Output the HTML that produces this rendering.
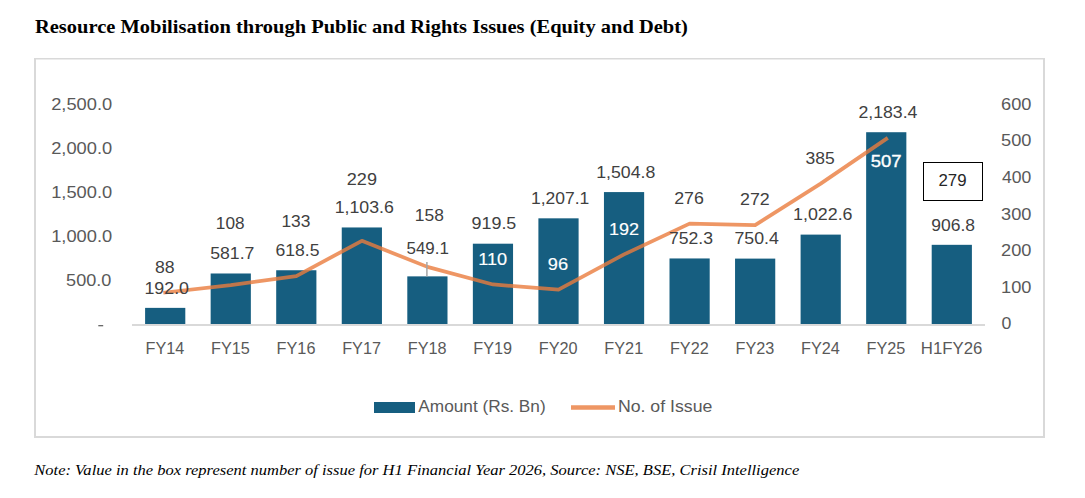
<!DOCTYPE html>
<html><head><meta charset="utf-8"><title>Resource Mobilisation</title>
<style>html,body{margin:0;padding:0;background:#fff;width:1085px;height:498px;overflow:hidden}</style>
</head><body>
<svg width="1085" height="498" viewBox="0 0 1085 498" style="display:block">
<rect x="0" y="0" width="1085" height="498" fill="#ffffff"/>
<rect x="34" y="58" width="1011" height="1.5" fill="#d9d9d9"/><rect x="34" y="58" width="2" height="380" fill="#d9d9d9"/><rect x="1043" y="58" width="2" height="380" fill="#d9d9d9"/><rect x="34" y="436" width="1011" height="2" fill="#d9d9d9"/>
<rect x="145.10" y="307.87" width="40.2" height="16.13" fill="#165e80"/><rect x="210.65" y="273.49" width="40.2" height="50.51" fill="#165e80"/><rect x="276.20" y="270.25" width="40.2" height="53.75" fill="#165e80"/><rect x="341.75" y="227.46" width="40.2" height="96.54" fill="#165e80"/><rect x="407.30" y="276.37" width="40.2" height="47.63" fill="#165e80"/><rect x="472.85" y="243.70" width="40.2" height="80.30" fill="#165e80"/><rect x="538.40" y="218.33" width="40.2" height="105.67" fill="#165e80"/><rect x="603.95" y="192.08" width="40.2" height="131.92" fill="#165e80"/><rect x="669.50" y="258.45" width="40.2" height="65.55" fill="#165e80"/><rect x="735.05" y="258.61" width="40.2" height="65.39" fill="#165e80"/><rect x="800.60" y="234.61" width="40.2" height="89.39" fill="#165e80"/><rect x="866.15" y="132.22" width="40.2" height="191.78" fill="#165e80"/><rect x="931.70" y="244.82" width="40.2" height="79.18" fill="#165e80"/>
<line x1="132" y1="325" x2="985" y2="325" stroke="#d9d9d9" stroke-width="2"/>
<polyline points="165.20,292.53 230.75,285.20 296.30,276.03 361.85,240.83 427.40,266.87 492.95,284.47 558.50,289.60 624.05,254.40 689.60,223.60 755.15,225.07 820.70,183.63 886.25,138.90" fill="none" stroke="#ea7c3d" stroke-opacity="0.8" stroke-width="3.75" stroke-linejoin="round" stroke-linecap="square"/>
<line x1="426.9" y1="262" x2="426.9" y2="276.5" stroke="#a6a6a6" stroke-width="1.5"/>
<rect x="923.5" y="162.5" width="59" height="38" fill="#ffffff" stroke="#000000" stroke-width="1"/>
<rect x="374" y="402" width="41" height="11" fill="#165e80"/>
<line x1="571" y1="407.5" x2="615" y2="407.5" stroke="#ea7c3d" stroke-opacity="0.8" stroke-width="4.5"/>
<line x1="98.3" y1="325.7" x2="103.2" y2="325.7" stroke="#595959" stroke-width="1.2"/>
<text x="51.19" y="109.60" textLength="60.98" lengthAdjust="spacingAndGlyphs" font-family='"Liberation Sans", sans-serif' font-size="16.5" font-weight="normal" font-style="normal" fill="#595959">2,500.0</text>
<text x="51.19" y="153.60" textLength="60.98" lengthAdjust="spacingAndGlyphs" font-family='"Liberation Sans", sans-serif' font-size="16.5" font-weight="normal" font-style="normal" fill="#595959">2,000.0</text>
<text x="51.19" y="197.60" textLength="60.98" lengthAdjust="spacingAndGlyphs" font-family='"Liberation Sans", sans-serif' font-size="16.5" font-weight="normal" font-style="normal" fill="#595959">1,500.0</text>
<text x="51.19" y="241.60" textLength="60.98" lengthAdjust="spacingAndGlyphs" font-family='"Liberation Sans", sans-serif' font-size="16.5" font-weight="normal" font-style="normal" fill="#595959">1,000.0</text>
<text x="66.11" y="285.60" textLength="45.22" lengthAdjust="spacingAndGlyphs" font-family='"Liberation Sans", sans-serif' font-size="16.5" font-weight="normal" font-style="normal" fill="#595959">500.0</text>
<text x="1001.00" y="109.90" textLength="30.39" lengthAdjust="spacingAndGlyphs" font-family='"Liberation Sans", sans-serif' font-size="16.5" font-weight="normal" font-style="normal" fill="#595959">600</text>
<text x="1001.00" y="146.48" textLength="30.39" lengthAdjust="spacingAndGlyphs" font-family='"Liberation Sans", sans-serif' font-size="16.5" font-weight="normal" font-style="normal" fill="#595959">500</text>
<text x="1002.10" y="183.06" textLength="29.26" lengthAdjust="spacingAndGlyphs" font-family='"Liberation Sans", sans-serif' font-size="16.5" font-weight="normal" font-style="normal" fill="#595959">400</text>
<text x="1001.00" y="219.64" textLength="30.39" lengthAdjust="spacingAndGlyphs" font-family='"Liberation Sans", sans-serif' font-size="16.5" font-weight="normal" font-style="normal" fill="#595959">300</text>
<text x="1001.00" y="256.22" textLength="30.39" lengthAdjust="spacingAndGlyphs" font-family='"Liberation Sans", sans-serif' font-size="16.5" font-weight="normal" font-style="normal" fill="#595959">200</text>
<text x="1001.00" y="292.80" textLength="30.39" lengthAdjust="spacingAndGlyphs" font-family='"Liberation Sans", sans-serif' font-size="16.5" font-weight="normal" font-style="normal" fill="#595959">100</text>
<text x="1001.52" y="329.40" textLength="9.88" lengthAdjust="spacingAndGlyphs" font-family='"Liberation Sans", sans-serif' font-size="16.5" font-weight="normal" font-style="normal" fill="#595959">0</text>
<text x="145.52" y="353.60" textLength="38.81" lengthAdjust="spacingAndGlyphs" font-family='"Liberation Sans", sans-serif' font-size="16.5" font-weight="normal" font-style="normal" fill="#595959">FY14</text>
<text x="211.07" y="353.60" textLength="38.81" lengthAdjust="spacingAndGlyphs" font-family='"Liberation Sans", sans-serif' font-size="16.5" font-weight="normal" font-style="normal" fill="#595959">FY15</text>
<text x="276.62" y="353.60" textLength="38.81" lengthAdjust="spacingAndGlyphs" font-family='"Liberation Sans", sans-serif' font-size="16.5" font-weight="normal" font-style="normal" fill="#595959">FY16</text>
<text x="342.17" y="353.60" textLength="38.81" lengthAdjust="spacingAndGlyphs" font-family='"Liberation Sans", sans-serif' font-size="16.5" font-weight="normal" font-style="normal" fill="#595959">FY17</text>
<text x="407.72" y="353.60" textLength="38.81" lengthAdjust="spacingAndGlyphs" font-family='"Liberation Sans", sans-serif' font-size="16.5" font-weight="normal" font-style="normal" fill="#595959">FY18</text>
<text x="473.27" y="353.60" textLength="38.81" lengthAdjust="spacingAndGlyphs" font-family='"Liberation Sans", sans-serif' font-size="16.5" font-weight="normal" font-style="normal" fill="#595959">FY19</text>
<text x="538.82" y="353.60" textLength="38.81" lengthAdjust="spacingAndGlyphs" font-family='"Liberation Sans", sans-serif' font-size="16.5" font-weight="normal" font-style="normal" fill="#595959">FY20</text>
<text x="604.37" y="353.60" textLength="38.81" lengthAdjust="spacingAndGlyphs" font-family='"Liberation Sans", sans-serif' font-size="16.5" font-weight="normal" font-style="normal" fill="#595959">FY21</text>
<text x="669.92" y="353.60" textLength="38.81" lengthAdjust="spacingAndGlyphs" font-family='"Liberation Sans", sans-serif' font-size="16.5" font-weight="normal" font-style="normal" fill="#595959">FY22</text>
<text x="735.47" y="353.60" textLength="38.81" lengthAdjust="spacingAndGlyphs" font-family='"Liberation Sans", sans-serif' font-size="16.5" font-weight="normal" font-style="normal" fill="#595959">FY23</text>
<text x="801.02" y="353.60" textLength="38.81" lengthAdjust="spacingAndGlyphs" font-family='"Liberation Sans", sans-serif' font-size="16.5" font-weight="normal" font-style="normal" fill="#595959">FY24</text>
<text x="866.57" y="353.60" textLength="38.81" lengthAdjust="spacingAndGlyphs" font-family='"Liberation Sans", sans-serif' font-size="16.5" font-weight="normal" font-style="normal" fill="#595959">FY25</text>
<text x="920.83" y="353.60" textLength="61.45" lengthAdjust="spacingAndGlyphs" font-family='"Liberation Sans", sans-serif' font-size="16.5" font-weight="normal" font-style="normal" fill="#595959">H1FY26</text>
<text x="154.93" y="272.70" textLength="19.66" lengthAdjust="spacingAndGlyphs" font-family='"Liberation Sans", sans-serif' font-size="16.5" font-weight="normal" font-style="normal" fill="#404040">88</text>
<text x="144.42" y="293.70" textLength="44.60" lengthAdjust="spacingAndGlyphs" font-family='"Liberation Sans", sans-serif' font-size="16.5" font-weight="normal" font-style="normal" fill="#404040">192.0</text>
<text x="215.86" y="228.50" textLength="28.70" lengthAdjust="spacingAndGlyphs" font-family='"Liberation Sans", sans-serif' font-size="16.5" font-weight="normal" font-style="normal" fill="#404040">108</text>
<text x="210.23" y="259.40" textLength="44.19" lengthAdjust="spacingAndGlyphs" font-family='"Liberation Sans", sans-serif' font-size="16.5" font-weight="normal" font-style="normal" fill="#404040">581.7</text>
<text x="281.45" y="227.00" textLength="29.01" lengthAdjust="spacingAndGlyphs" font-family='"Liberation Sans", sans-serif' font-size="16.5" font-weight="normal" font-style="normal" fill="#404040">133</text>
<text x="275.54" y="256.40" textLength="43.98" lengthAdjust="spacingAndGlyphs" font-family='"Liberation Sans", sans-serif' font-size="16.5" font-weight="normal" font-style="normal" fill="#404040">618.5</text>
<text x="346.80" y="185.00" textLength="30.18" lengthAdjust="spacingAndGlyphs" font-family='"Liberation Sans", sans-serif' font-size="16.5" font-weight="normal" font-style="normal" fill="#404040">229</text>
<text x="334.73" y="213.10" textLength="59.11" lengthAdjust="spacingAndGlyphs" font-family='"Liberation Sans", sans-serif' font-size="16.5" font-weight="normal" font-style="normal" fill="#404040">1,103.6</text>
<text x="414.85" y="220.90" textLength="29.01" lengthAdjust="spacingAndGlyphs" font-family='"Liberation Sans", sans-serif' font-size="16.5" font-weight="normal" font-style="normal" fill="#404040">158</text>
<text x="406.47" y="253.50" textLength="42.43" lengthAdjust="spacingAndGlyphs" font-family='"Liberation Sans", sans-serif' font-size="16.5" font-weight="normal" font-style="normal" fill="#404040">549.1</text>
<text x="471.52" y="228.70" textLength="44.81" lengthAdjust="spacingAndGlyphs" font-family='"Liberation Sans", sans-serif' font-size="16.5" font-weight="normal" font-style="normal" fill="#404040">919.5</text>
<text x="530.94" y="204.40" textLength="58.39" lengthAdjust="spacingAndGlyphs" font-family='"Liberation Sans", sans-serif' font-size="16.5" font-weight="normal" font-style="normal" fill="#404040">1,207.1</text>
<text x="596.23" y="178.10" textLength="59.11" lengthAdjust="spacingAndGlyphs" font-family='"Liberation Sans", sans-serif' font-size="16.5" font-weight="normal" font-style="normal" fill="#404040">1,504.8</text>
<text x="674.22" y="203.80" textLength="29.65" lengthAdjust="spacingAndGlyphs" font-family='"Liberation Sans", sans-serif' font-size="16.5" font-weight="normal" font-style="normal" fill="#404040">276</text>
<text x="668.93" y="244.40" textLength="44.08" lengthAdjust="spacingAndGlyphs" font-family='"Liberation Sans", sans-serif' font-size="16.5" font-weight="normal" font-style="normal" fill="#404040">752.3</text>
<text x="740.02" y="204.90" textLength="29.75" lengthAdjust="spacingAndGlyphs" font-family='"Liberation Sans", sans-serif' font-size="16.5" font-weight="normal" font-style="normal" fill="#404040">272</text>
<text x="734.42" y="244.40" textLength="44.39" lengthAdjust="spacingAndGlyphs" font-family='"Liberation Sans", sans-serif' font-size="16.5" font-weight="normal" font-style="normal" fill="#404040">750.4</text>
<text x="805.64" y="163.70" textLength="29.23" lengthAdjust="spacingAndGlyphs" font-family='"Liberation Sans", sans-serif' font-size="16.5" font-weight="normal" font-style="normal" fill="#404040">385</text>
<text x="793.02" y="220.00" textLength="59.53" lengthAdjust="spacingAndGlyphs" font-family='"Liberation Sans", sans-serif' font-size="16.5" font-weight="normal" font-style="normal" fill="#404040">1,022.6</text>
<text x="858.43" y="118.00" textLength="59.04" lengthAdjust="spacingAndGlyphs" font-family='"Liberation Sans", sans-serif' font-size="16.5" font-weight="normal" font-style="normal" fill="#404040">2,183.4</text>
<text x="931.24" y="230.60" textLength="43.77" lengthAdjust="spacingAndGlyphs" font-family='"Liberation Sans", sans-serif' font-size="16.5" font-weight="normal" font-style="normal" fill="#404040">906.8</text>
<text x="478.20" y="265.20" textLength="28.94" lengthAdjust="spacingAndGlyphs" font-family='"Liberation Sans", sans-serif' font-size="16.5" font-weight="normal" font-style="normal" fill="#ffffff" stroke="#ffffff" stroke-width="0.15">110</text>
<text x="547.79" y="269.70" textLength="20.30" lengthAdjust="spacingAndGlyphs" font-family='"Liberation Sans", sans-serif' font-size="16.5" font-weight="normal" font-style="normal" fill="#ffffff" stroke="#ffffff" stroke-width="0.15">96</text>
<text x="608.91" y="235.10" textLength="30.07" lengthAdjust="spacingAndGlyphs" font-family='"Liberation Sans", sans-serif' font-size="16.5" font-weight="normal" font-style="normal" fill="#ffffff" stroke="#ffffff" stroke-width="0.15">192</text>
<text x="870.68" y="167.30" textLength="30.81" lengthAdjust="spacingAndGlyphs" font-family='"Liberation Sans", sans-serif' font-size="16.5" font-weight="normal" font-style="normal" fill="#ffffff" stroke="#ffffff" stroke-width="0.35">507</text>
<text x="938.48" y="186.40" textLength="28.06" lengthAdjust="spacingAndGlyphs" font-family='"Liberation Sans", sans-serif' font-size="16.5" font-weight="normal" font-style="normal" fill="#262626">279</text>
<text x="418.30" y="411.90" textLength="127.41" lengthAdjust="spacingAndGlyphs" font-family='"Liberation Sans", sans-serif' font-size="16.5" font-weight="normal" font-style="normal" fill="#595959">Amount (Rs. Bn)</text>
<text x="617.93" y="411.90" textLength="94.39" lengthAdjust="spacingAndGlyphs" font-family='"Liberation Sans", sans-serif' font-size="16.5" font-weight="normal" font-style="normal" fill="#595959">No. of Issue</text>
<text x="35.00" y="32.90" textLength="652.80" lengthAdjust="spacingAndGlyphs" font-family='"Liberation Serif", serif' font-size="19.5" font-weight="bold" font-style="normal" fill="#000000">Resource Mobilisation through Public and Rights Issues (Equity and Debt)</text>
<text x="34.30" y="474.90" textLength="764.93" lengthAdjust="spacingAndGlyphs" font-family='"Liberation Serif", serif' font-size="15.5" font-weight="normal" font-style="italic" fill="#000000">Note: Value in the box represent number of issue for H1 Financial Year 2026, Source: NSE, BSE, Crisil Intelligence</text>
</svg>
</body></html>
